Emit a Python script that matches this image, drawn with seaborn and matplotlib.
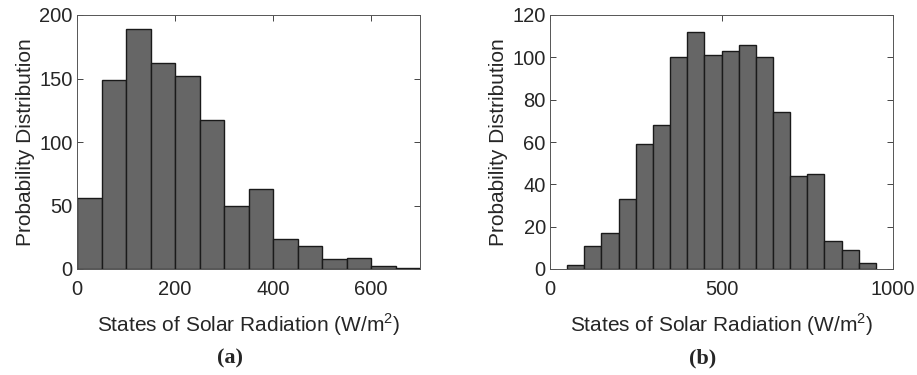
import numpy as np
import matplotlib
matplotlib.use("Agg")
import matplotlib.pyplot as plt
import seaborn as sns

# bin edges and counts
edges_a = list(range(0, 701, 50))
counts_a = [56, 149, 189, 162, 152, 117, 50, 63, 24, 18, 8, 9, 2, 1]

edges_b = list(range(50, 951, 50))
counts_b = [2, 11, 17, 33, 59, 68, 100, 112, 101, 103, 106, 100, 74, 44, 45, 13, 9, 3]

xticks_a = [0, 200, 400, 600]
yticks_a = [0, 50, 100, 150, 200]
xticks_b = [0, 500, 1000]
yticks_b = [0, 20, 40, 60, 80, 100, 120]

sns.set_style("ticks")
plt.rcParams["font.family"] = ["Liberation Sans", "DejaVu Sans"]
plt.rcParams["mathtext.fontset"] = "custom"
plt.rcParams["mathtext.rm"] = "Liberation Sans"

gray = "#262626"
W, H = 917, 375
fig = plt.figure(figsize=(W / 100, H / 100), dpi=100)
ax1 = fig.add_axes([77 / W, 1 - 269 / H, 343 / W, 254 / H])
ax2 = fig.add_axes([550 / W, 1 - 269 / H, 343 / W, 254 / H])


def draw(ax, edges, counts, xlim, ylim, xticks, yticks, tag):
    centers = [(edges[i] + edges[i + 1]) / 2 for i in range(len(counts))]
    sns.histplot(x=centers, weights=counts, bins=edges, ax=ax,
                 color="#666666", edgecolor="#1a1a1a", linewidth=1.0, alpha=1)
    ax.set_xlim(*xlim)
    ax.set_ylim(*ylim)
    ax.set_xticks(xticks)
    ax.set_yticks(yticks)
    ax.tick_params(direction="in", top=True, right=True, length=4,
                   labelsize=14.5, colors=gray, width=0.6)
    ax.tick_params(axis="x", pad=8)
    ax.tick_params(axis="y", pad=3)
    for s in ax.spines.values():
        s.set_visible(True)
        s.set_color("#555555")
        s.set_linewidth(0.7)
    ax.set_ylabel("Probability Distribution", fontsize=15, color=gray, labelpad=3)
    ax.set_xlabel("States of Solar Radiation (W/m$^2$)", fontsize=15,
                  color=gray, labelpad=9)
    pos = ax.get_position()
    fig.text((pos.x0 + pos.x1) / 2 - 19 / W, 1 - 358 / H, tag, ha="center",
             va="center", fontsize=16, fontweight="bold", family="Liberation Serif")


draw(ax1, edges_a, counts_a, (0, 700), (0, 200), xticks_a, yticks_a, "(a)")
draw(ax2, edges_b, counts_b, (0, 1000), (0, 120), xticks_b, yticks_b, "(b)")

fig.savefig("out.png", dpi=100)
